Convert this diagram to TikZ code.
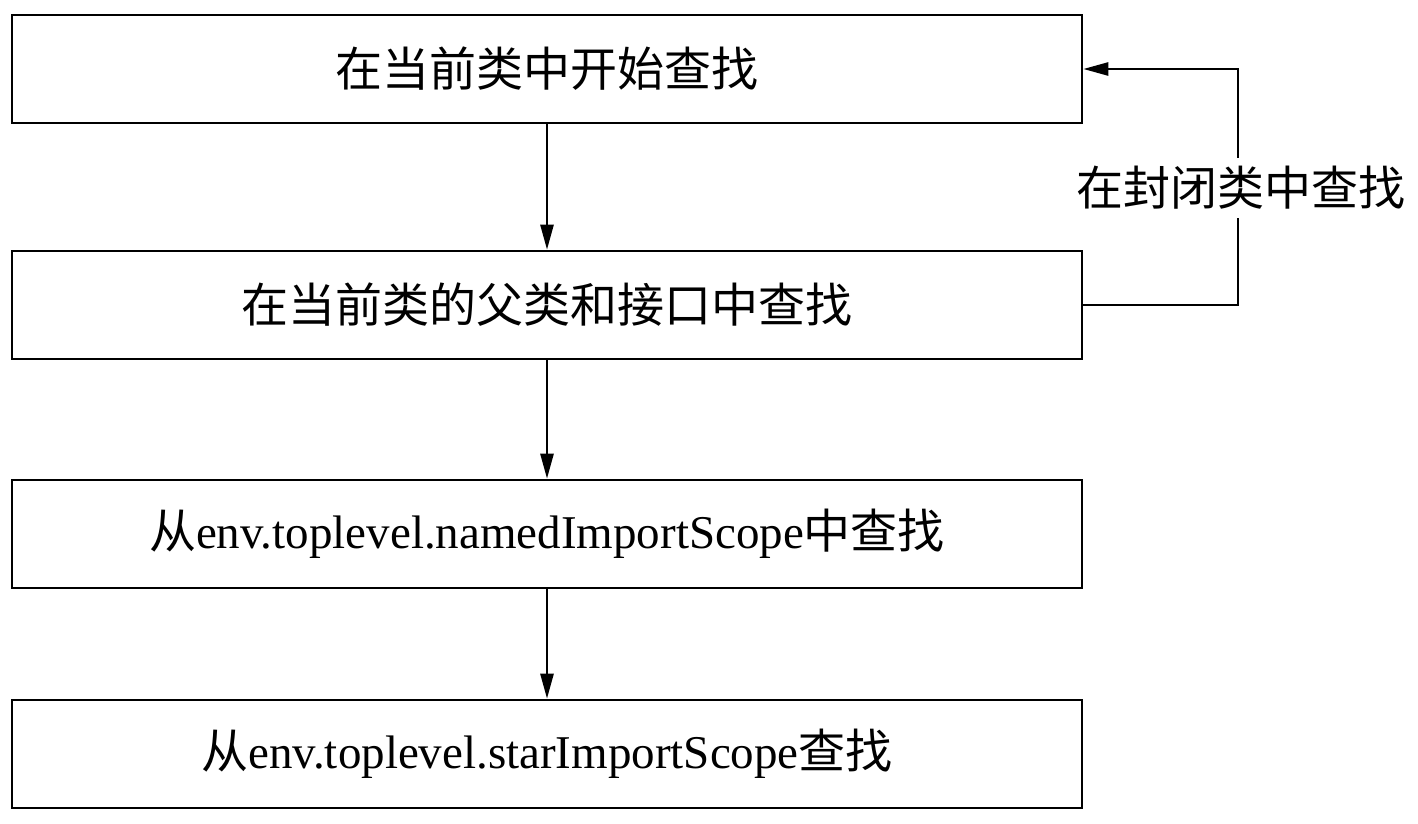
\documentclass[tikz,border=0pt]{standalone}
\usepackage{fontspec}
\setmainfont{Liberation Serif}
\newfontfamily\cjk{Noto Sans CJK SC}
\usetikzlibrary{arrows.meta}
\begin{document}
\begin{tikzpicture}[x=0.5pt,y=-0.5pt,
  stepbox/.style={draw,line width=1.3pt,minimum width=535pt,minimum height=54pt,inner sep=0pt,
    font=\fontsize{23.5pt}{28pt}\selectfont},
  conn/.style={line width=1.3pt,-{Triangle[length=12.5pt,width=6.5pt]}},
  lbl/.style={fill=white,inner sep=4pt,font=\fontsize{23.5pt}{28pt}\selectfont\cjk}]
\useasboundingbox (0,0) rectangle (1418,824);
\node[stepbox] (b1) at (547,69) {\cjk 在当前类中开始查找};
\node[stepbox] (b2) at (547,305) {\cjk 在当前类的父类和接口中查找};
\node[stepbox] (b3) at (547,534) {{\cjk 从}env.toplevel.namedImportScope{\cjk 中查找}};
\node[stepbox] (b4) at (547,754) {{\cjk 从}env.toplevel.starImportScope{\cjk 查找}};
\draw[conn] (b1) -- (b2);
\draw[conn] (b2) -- (b3);
\draw[conn] (b3) -- (b4);
\coordinate (fb) at (1238,305);
\draw[conn] (b2.east) -- (fb) |- (b1.east);
\node[lbl] (lab) at (1241,188) {在封闭类中查找};
\end{tikzpicture}
\end{document}
